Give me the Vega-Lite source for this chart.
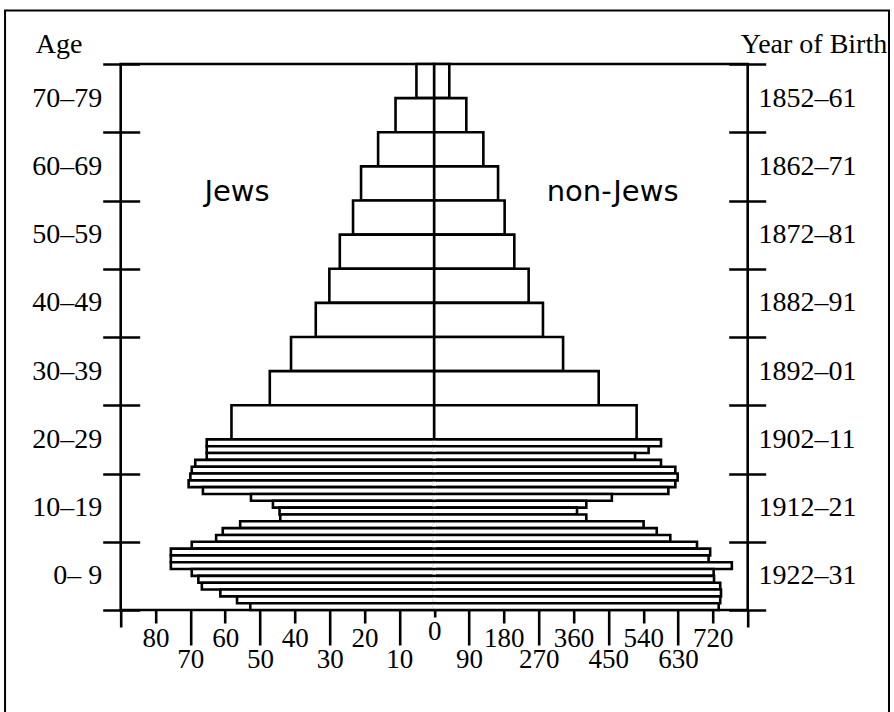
{
  "$schema": "https://vega.github.io/schema/vega-lite/v6.json",
  "width": 627,
  "height": 546,
  "autosize": {"type": "none"},
  "padding": {"left": 120.7, "top": 64, "right": 146.3, "bottom": 102},
  "background": "white",
  "config": {
    "view": {"stroke": "black", "strokeWidth": 2.6},
    "axis": {"labelColor": "black", "tickColor": "black", "titleColor": "black", "grid": false, "domain": false}
  },
  "datasets": {
    "pop": [
      {"age_from": 75, "age_to": 80, "jews": 5.1, "non_jews": 39},
      {"age_from": 70, "age_to": 75, "jews": 11.1, "non_jews": 83},
      {"age_from": 65, "age_to": 70, "jews": 16.1, "non_jews": 127},
      {"age_from": 60, "age_to": 65, "jews": 21.0, "non_jews": 165},
      {"age_from": 55, "age_to": 60, "jews": 23.3, "non_jews": 182},
      {"age_from": 50, "age_to": 55, "jews": 27.1, "non_jews": 207},
      {"age_from": 45, "age_to": 50, "jews": 30.1, "non_jews": 244},
      {"age_from": 40, "age_to": 45, "jews": 34.0, "non_jews": 281},
      {"age_from": 35, "age_to": 40, "jews": 41.1, "non_jews": 333},
      {"age_from": 30, "age_to": 35, "jews": 47.2, "non_jews": 425},
      {"age_from": 25, "age_to": 30, "jews": 58.2, "non_jews": 523},
      {"age_from": 24, "age_to": 25, "jews": 65.3, "non_jews": 586},
      {"age_from": 23, "age_to": 24, "jews": 65.3, "non_jews": 554},
      {"age_from": 22, "age_to": 23, "jews": 65.3, "non_jews": 519},
      {"age_from": 21, "age_to": 22, "jews": 68.6, "non_jews": 586},
      {"age_from": 20, "age_to": 21, "jews": 69.6, "non_jews": 623},
      {"age_from": 19, "age_to": 20, "jews": 70.0, "non_jews": 629},
      {"age_from": 18, "age_to": 19, "jews": 70.5, "non_jews": 623},
      {"age_from": 17, "age_to": 18, "jews": 66.4, "non_jews": 605},
      {"age_from": 16, "age_to": 17, "jews": 52.6, "non_jews": 459},
      {"age_from": 15, "age_to": 16, "jews": 46.3, "non_jews": 393},
      {"age_from": 14, "age_to": 15, "jews": 44.4, "non_jews": 369},
      {"age_from": 13, "age_to": 14, "jews": 44.2, "non_jews": 393},
      {"age_from": 12, "age_to": 13, "jews": 55.7, "non_jews": 541},
      {"age_from": 11, "age_to": 12, "jews": 60.7, "non_jews": 575},
      {"age_from": 10, "age_to": 11, "jews": 62.6, "non_jews": 610},
      {"age_from": 9, "age_to": 10, "jews": 69.6, "non_jews": 679},
      {"age_from": 8, "age_to": 9, "jews": 75.6, "non_jews": 713},
      {"age_from": 7, "age_to": 8, "jews": 75.6, "non_jews": 709},
      {"age_from": 6, "age_to": 7, "jews": 75.6, "non_jews": 769},
      {"age_from": 5, "age_to": 6, "jews": 69.6, "non_jews": 722},
      {"age_from": 4, "age_to": 5, "jews": 67.7, "non_jews": 723},
      {"age_from": 3, "age_to": 4, "jews": 66.7, "non_jews": 739},
      {"age_from": 2, "age_to": 3, "jews": 61.4, "non_jews": 741},
      {"age_from": 1, "age_to": 2, "jews": 56.6, "non_jews": 739},
      {"age_from": 0, "age_to": 1, "jews": 52.8, "non_jews": 735}
    ]
  },
  "data": {"name": "pop"},
  "resolve": {"scale": {"x": "independent"}, "axis": {"x": "independent", "y": "independent"}},
  "layer": [
    {
      "mark": {"type": "rect", "fill": "white", "stroke": "black", "strokeWidth": 2.6},
      "encoding": {
        "x": {
          "field": "jews", "type": "quantitative",
          "scale": {"domain": [90, -90], "nice": false, "zero": false},
          "axis": {
            "orient": "bottom",
            "values": [90, 80, 70, 60, 50, 40, 30, 20, 10, 0, -10, -20, -30, -40, -50, -60, -70, -80, -90],
            "title": null,
            "ticks": true,
            "tickWidth": 2.6,
            "tickSize": {"condition": [
              {"test": "abs(datum.value) >= 90", "value": 17},
              {"test": "datum.value == 0", "value": 7},
              {"test": "abs(datum.value) % 20 == 10", "value": 35}
            ], "value": 13},
            "labelPadding": {"condition": [
              {"test": "datum.value == 0", "value": 1.5},
              {"test": "abs(datum.value) % 20 == 10", "value": 1}
            ], "value": 2},
            "labelExpr": "abs(datum.value) >= 90 ? '' : (datum.value >= 0 ? '' + datum.value : '' + (-datum.value * 9))",
            "labelFont": "Liberation Serif",
            "labelFontSize": 27,
            "labelFlush": false,
            "labelOverlap": false,
            "labelBound": false
          }
        },
        "x2": {"datum": 0},
        "y": {
          "field": "age_from", "type": "quantitative",
          "scale": {"domain": [0, 80], "nice": false, "zero": false},
          "axis": {
            "orient": "left",
            "values": [0, 10, 20, 30, 40, 50, 60, 70, 80],
            "offset": -19,
            "ticks": true,
            "tickSize": 37,
            "tickWidth": 2.6,
            "labelExpr": "datum.value >= 80 ? '' : (datum.value == 0 ? '0–  9' : datum.value + '–' + (datum.value + 9))",
            "labelOffset": -34.1,
            "labelPadding": 1,
            "labelFont": "Liberation Serif",
            "labelFontSize": 28,
            "labelOverlap": false,
            "labelBound": false,
            "labelFlush": false,
            "title": "Age",
            "titleAngle": 0,
            "titleAlign": "left",
            "titleBaseline": "alphabetic",
            "titleX": -104.5,
            "titleY": -12,
            "titleFont": "Liberation Serif",
            "titleFontSize": 28,
            "titleFontWeight": "normal"
          }
        },
        "y2": {"field": "age_to"}
      }
    },
    {
      "mark": {"type": "rect", "fill": "white", "stroke": "black", "strokeWidth": 2.6},
      "encoding": {
        "x": {
          "field": "non_jews", "type": "quantitative",
          "scale": {"domain": [-810, 810], "nice": false, "zero": false},
          "axis": null
        },
        "x2": {"datum": 0},
        "y": {
          "field": "age_from", "type": "quantitative",
          "scale": {"domain": [0, 80], "nice": false, "zero": false},
          "axis": {
            "orient": "right",
            "values": [0, 10, 20, 30, 40, 50, 60, 70, 80],
            "offset": -19,
            "ticks": true,
            "tickSize": 37,
            "tickWidth": 2.6,
            "labelExpr": "datum.value >= 80 ? '' : (1922 - datum.value) + '–' + substring('' + (1931 - datum.value), 2, 4)",
            "labelOffset": -34.1,
            "labelPadding": -7.7,
            "labelFont": "Liberation Serif",
            "labelFontSize": 28,
            "labelOverlap": false,
            "labelBound": false,
            "labelFlush": false,
            "title": "Year of Birth",
            "titleAngle": 0,
            "titleAlign": "right",
            "titleBaseline": "alphabetic",
            "titleX": 158,
            "titleY": -12,
            "titleFont": "Liberation Serif",
            "titleFontSize": 28,
            "titleFontWeight": "normal"
          }
        },
        "y2": {"field": "age_to"}
      }
    },
    {
      "transform": [{"filter": "datum.age_to <= 25"}],
      "mark": {"type": "rule", "stroke": "white", "strokeWidth": 3.6, "yOffset": -1.3, "y2Offset": 1.3},
      "encoding": {
        "x": {"datum": 0, "type": "quantitative", "scale": {"domain": [90, -90], "nice": false, "zero": false}, "axis": null},
        "y": {"field": "age_from", "type": "quantitative", "scale": {"domain": [0, 80], "nice": false, "zero": false}, "axis": null},
        "y2": {"field": "age_to"}
      }
    },
    {
      "data": {"values": [{}]},
      "mark": {"type": "text", "text": "Jews", "font": "DejaVu Sans", "fontSize": 29, "color": "black", "align": "center", "baseline": "middle"},
      "encoding": {
        "x": {"datum": 56.6, "type": "quantitative", "scale": {"domain": [90, -90], "nice": false, "zero": false}, "axis": null},
        "y": {"datum": 61.2, "type": "quantitative", "scale": {"domain": [0, 80], "nice": false, "zero": false}, "axis": null}
      }
    },
    {
      "data": {"values": [{}]},
      "mark": {"type": "text", "text": "non-Jews", "font": "DejaVu Sans", "fontSize": 29, "color": "black", "align": "center", "baseline": "middle"},
      "encoding": {
        "x": {"datum": 461, "type": "quantitative", "scale": {"domain": [-810, 810], "nice": false, "zero": false}, "axis": null},
        "y": {"datum": 61.2, "type": "quantitative", "scale": {"domain": [0, 80], "nice": false, "zero": false}, "axis": null}
      }
    },
    {
      "data": {"values": [{}]},
      "mark": {"type": "rect", "fill": null, "fillOpacity": 0, "stroke": "black", "strokeWidth": 2},
      "encoding": {
        "x": {"datum": 123.2, "type": "quantitative", "scale": {"domain": [90, -90], "nice": false, "zero": false}, "axis": null},
        "x2": {"datum": -130.56},
        "y": {"datum": 87.84, "type": "quantitative", "scale": {"domain": [0, 80], "nice": false, "zero": false}, "axis": null},
        "y2": {"datum": -17.58}
      }
    }
  ]
}
